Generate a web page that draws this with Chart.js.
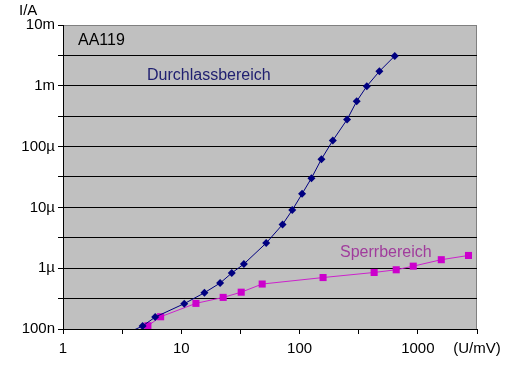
<!DOCTYPE html>
<html>
<head>
<meta charset="utf-8">
<script src="https://cdn.jsdelivr.net/npm/chart.js@4/dist/chart.umd.min.js"></script>
<style>
html,body{margin:0;padding:0;background:#fff;}
canvas{display:block;}
</style>
</head>
<body>
<canvas id="c" width="509" height="374"></canvas>
<script>
// Durchlassbereich (forward) : U in mV, I in A
const fwdU = [3.3, 4.71, 6.02, 10.6, 15.7, 21.3, 26.7, 33.8, 52.2, 71.8, 86.7, 105, 126, 153, 191, 252, 304, 370, 473, 638];
const fwdI = [8.15e-8, 1.12e-7, 1.57e-7, 2.61e-7, 3.95e-7, 5.70e-7, 8.32e-7, 1.17e-6, 2.59e-6, 5.24e-6, 9.02e-6, 1.67e-5, 3.03e-5, 6.21e-5, 1.26e-4, 2.78e-4, 5.57e-4, 9.84e-4, 1.73e-3, 3.10e-3];
// Sperrbereich (reverse)
const revU = [3.6, 5.22, 6.69, 13.3, 22.6, 32.1, 48.3, 158, 427, 656, 914, 1578, 2680];
const revI = [8.1e-8, 1.13e-7, 1.59e-7, 2.64e-7, 3.31e-7, 4.03e-7, 5.49e-7, 7.02e-7, 8.51e-7, 9.42e-7, 1.08e-6, 1.38e-6, 1.62e-6];

const xTickValues = [1, 3.1623, 10, 31.623, 100, 316.23, 1000, 3162.28];
const xTickLabels = ["1", "", "10", "", "100", "", "1000", "(U/mV)"];
const yTickValues = [1e-7, 3.1623e-7, 1e-6, 3.1623e-6, 1e-5, 3.1623e-5, 1e-4, 3.1623e-4, 1e-3, 3.1623e-3, 1e-2];
const yTickLabels = ["100n", "", "1µ", "", "10µ", "", "100µ", "", "1m", "", "10m"];

const FONT = '"Liberation Sans", Arial, sans-serif';

const annotations = {
  id: 'annotations',
  beforeDraw(chart) {
    const a = chart.chartArea, ctx = chart.ctx;
    ctx.save();
    ctx.fillStyle = '#c0c0c0';
    ctx.fillRect(a.left, a.top, a.right - a.left, a.bottom - a.top);
    ctx.strokeStyle = '#808080';
    ctx.lineWidth = 1;
    ctx.strokeRect(a.left + 0.5, a.top + 0.5, a.right - a.left - 1, a.bottom - a.top);
    ctx.restore();
  },
  afterDraw(chart) {
    const ctx = chart.ctx;
    ctx.save();
    ctx.textBaseline = 'middle';
    ctx.textAlign = 'left';
    ctx.font = '15px ' + FONT;
    ctx.fillStyle = '#000';
    ctx.fillText('I/A', 19, 11);
    ctx.font = '16px ' + FONT;
    ctx.fillText('AA119', 78, 41);
    ctx.fillStyle = '#202070';
    ctx.fillText('Durchlassbereich', 147, 76);
    ctx.fillStyle = '#a03c9c';
    ctx.fillText('Sperrbereich', 340, 253);
    ctx.restore();
  }
};

new Chart(document.getElementById('c'), {
  type: 'line',
  data: {
    datasets: [
      {
        label: 'Durchlassbereich',
        data: fwdU.map((u, i) => ({x: u, y: fwdI[i]})),
        borderColor: '#000080',
        backgroundColor: '#000080',
        borderWidth: 1,
        pointStyle: 'rectRot',
        pointRadius: 4,
        pointBorderWidth: 0,
        tension: 0,
        clip: 0
      },
      {
        label: 'Sperrbereich',
        data: revU.map((u, i) => ({x: u, y: revI[i]})),
        borderColor: '#cc22cc',
        backgroundColor: '#cc00cc',
        borderWidth: 1,
        pointStyle: 'rect',
        pointRadius: 5,
        pointBorderWidth: 0,
        tension: 0,
        clip: 0
      }
    ]
  },
  options: {
    responsive: false,
    animation: false,
    layout: {padding: {left: 0, top: 25, right: 32, bottom: 0}},
    plugins: {legend: {display: false}, tooltip: {enabled: false}},
    scales: {
      x: {
        type: 'logarithmic',
        min: 1,
        max: 3162.28,
        afterBuildTicks: s => { s.ticks = xTickValues.map(v => ({value: v})); },
        afterFit: s => { s.height = 45; },
        ticks: {
          autoSkip: false,
          maxRotation: 0,
          minRotation: 0,
          color: '#000',
          font: {family: FONT, size: 15},
          padding: 6,
          callback: (v, i) => xTickLabels[i]
        },
        grid: {drawOnChartArea: false, drawTicks: true, tickLength: 5, tickColor: '#000', color: '#000'},
        border: {display: true, color: '#000', width: 1}
      },
      y: {
        type: 'logarithmic',
        min: 1e-7,
        max: 1e-2,
        afterBuildTicks: s => { s.ticks = yTickValues.map(v => ({value: v})); },
        afterFit: s => { s.width = 63; },
        ticks: {
          autoSkip: false,
          color: '#000',
          font: {family: FONT, size: 15},
          padding: 3,
          callback: (v, i) => yTickLabels[i]
        },
        grid: {
          drawOnChartArea: true,
          drawTicks: true,
          tickLength: 5,
          tickColor: '#000',
          lineWidth: 1,
          color: c => (c.tick && c.tick.value >= 0.0099) ? '#808080' : '#000'
        },
        border: {display: true, color: '#000', width: 1}
      }
    }
  },
  plugins: [annotations]
});
</script>
</body>
</html>
